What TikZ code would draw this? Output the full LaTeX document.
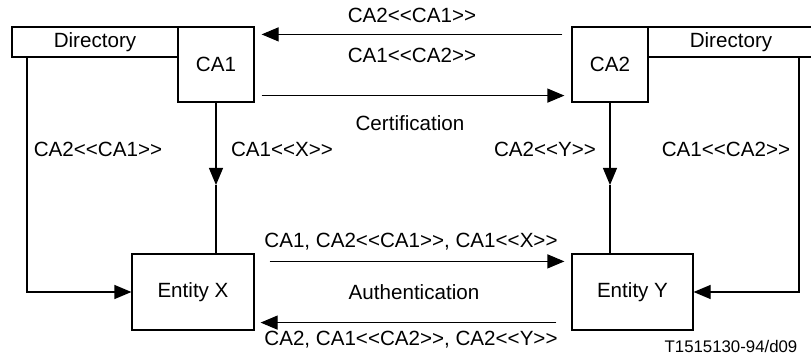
\documentclass[tikz,border=0pt]{standalone}
\usepackage{fontspec}
\setmainfont{Liberation Sans}
\usepackage{tikz}
\usetikzlibrary{arrows.meta,calc}

\begin{document}
\begin{tikzpicture}[x=0.5pt,y=-0.5pt,line width=0.6pt,
		box/.style={draw,inner sep=0pt,font=\fontsize{10.3}{12}\selectfont},
		lbl/.style={inner sep=0pt,font=\fontsize{10.3}{12}\selectfont},
		arr/.style={-{Triangle[length=8.5pt,width=7pt]}}]
		\useasboundingbox (0,0) rectangle (811,358);
		\node[box,minimum width=83pt,minimum height=15pt] (dirL) at (95,42) {Directory};
		\node[box,minimum width=38pt,minimum height=37.5pt] (CA1) at (216,64.5) {CA1};
		\node[box,minimum width=38pt,minimum height=37.5pt] (CA2) at (610,64.5) {CA2};
		\node[box,minimum width=82.5pt,minimum height=15pt] (dirR) at (730.5,42) {};
		\node[lbl] at (731,42) {Directory};
		\node[box,minimum width=61pt,minimum height=38pt] (EX) at (193,292) {Entity X};
		\node[box,minimum width=60.5pt,minimum height=38pt] (EY) at (632.5,292) {Entity Y};
		\coordinate (lbend) at (27,292);
		\coordinate (rbend) at (799,292);
		\coordinate (xmid) at (216,185);
		\coordinate (ymid) at (610,185);
%
		\draw[arr] (dirL.south -| lbend) -- (lbend) -- (EX.west);
		\draw[arr] (dirR.south -| rbend) -- (rbend) -- (EY.east);
		\draw[arr] (CA1.south -| xmid) -- (xmid);
		\draw (xmid) -- (EX.north -| xmid);
		\draw[arr] (CA2.south -| ymid) -- (ymid);
		\draw (ymid) -- (EY.north -| ymid);
		\draw[arr] ($(CA2.north west)+(-9,8)$) -- ($(CA1.north east)+(7,8)$);
		\draw[arr] ($(CA1.south east)+(7,-7)$) -- ($(CA2.south west)+(-7,-7)$);
		\draw[arr] ($(EX.north east)+(15,8)$) -- ($(EY.north west)+(-7,8)$);
		\draw[arr] ($(EY.south west)+(-15,-8)$) -- ($(EX.south east)+(6,-8)$);
%
		\node[lbl] at (412,15) {CA2<{}<CA1>{}>};
		\node[lbl] at (412,55) {CA1<{}<CA2>{}>};
		\node[lbl] at (410,123) {Certification};
		\node[lbl] at (98,149) {CA2<{}<CA1>{}>};
		\node[lbl] at (282,149) {CA1<{}<X>{}>};
		\node[lbl] at (545,149) {CA2<{}<Y>{}>};
		\node[lbl] at (726,149) {CA1<{}<CA2>{}>};
		\node[lbl] at (411,242) {CA1, CA2<{}<CA1>{}>, CA1<{}<X>{}>};
		\node[lbl] at (414,292) {Authentication};
		\node[lbl] at (411,340) {CA2, CA1<{}<CA2>{}>, CA2<{}<Y>{}>};
		\node[inner sep=0pt,font=\fontsize{8.4}{10}\selectfont] at (731,346) {T1515130-94/d09};
	\end{tikzpicture}
\end{document}
